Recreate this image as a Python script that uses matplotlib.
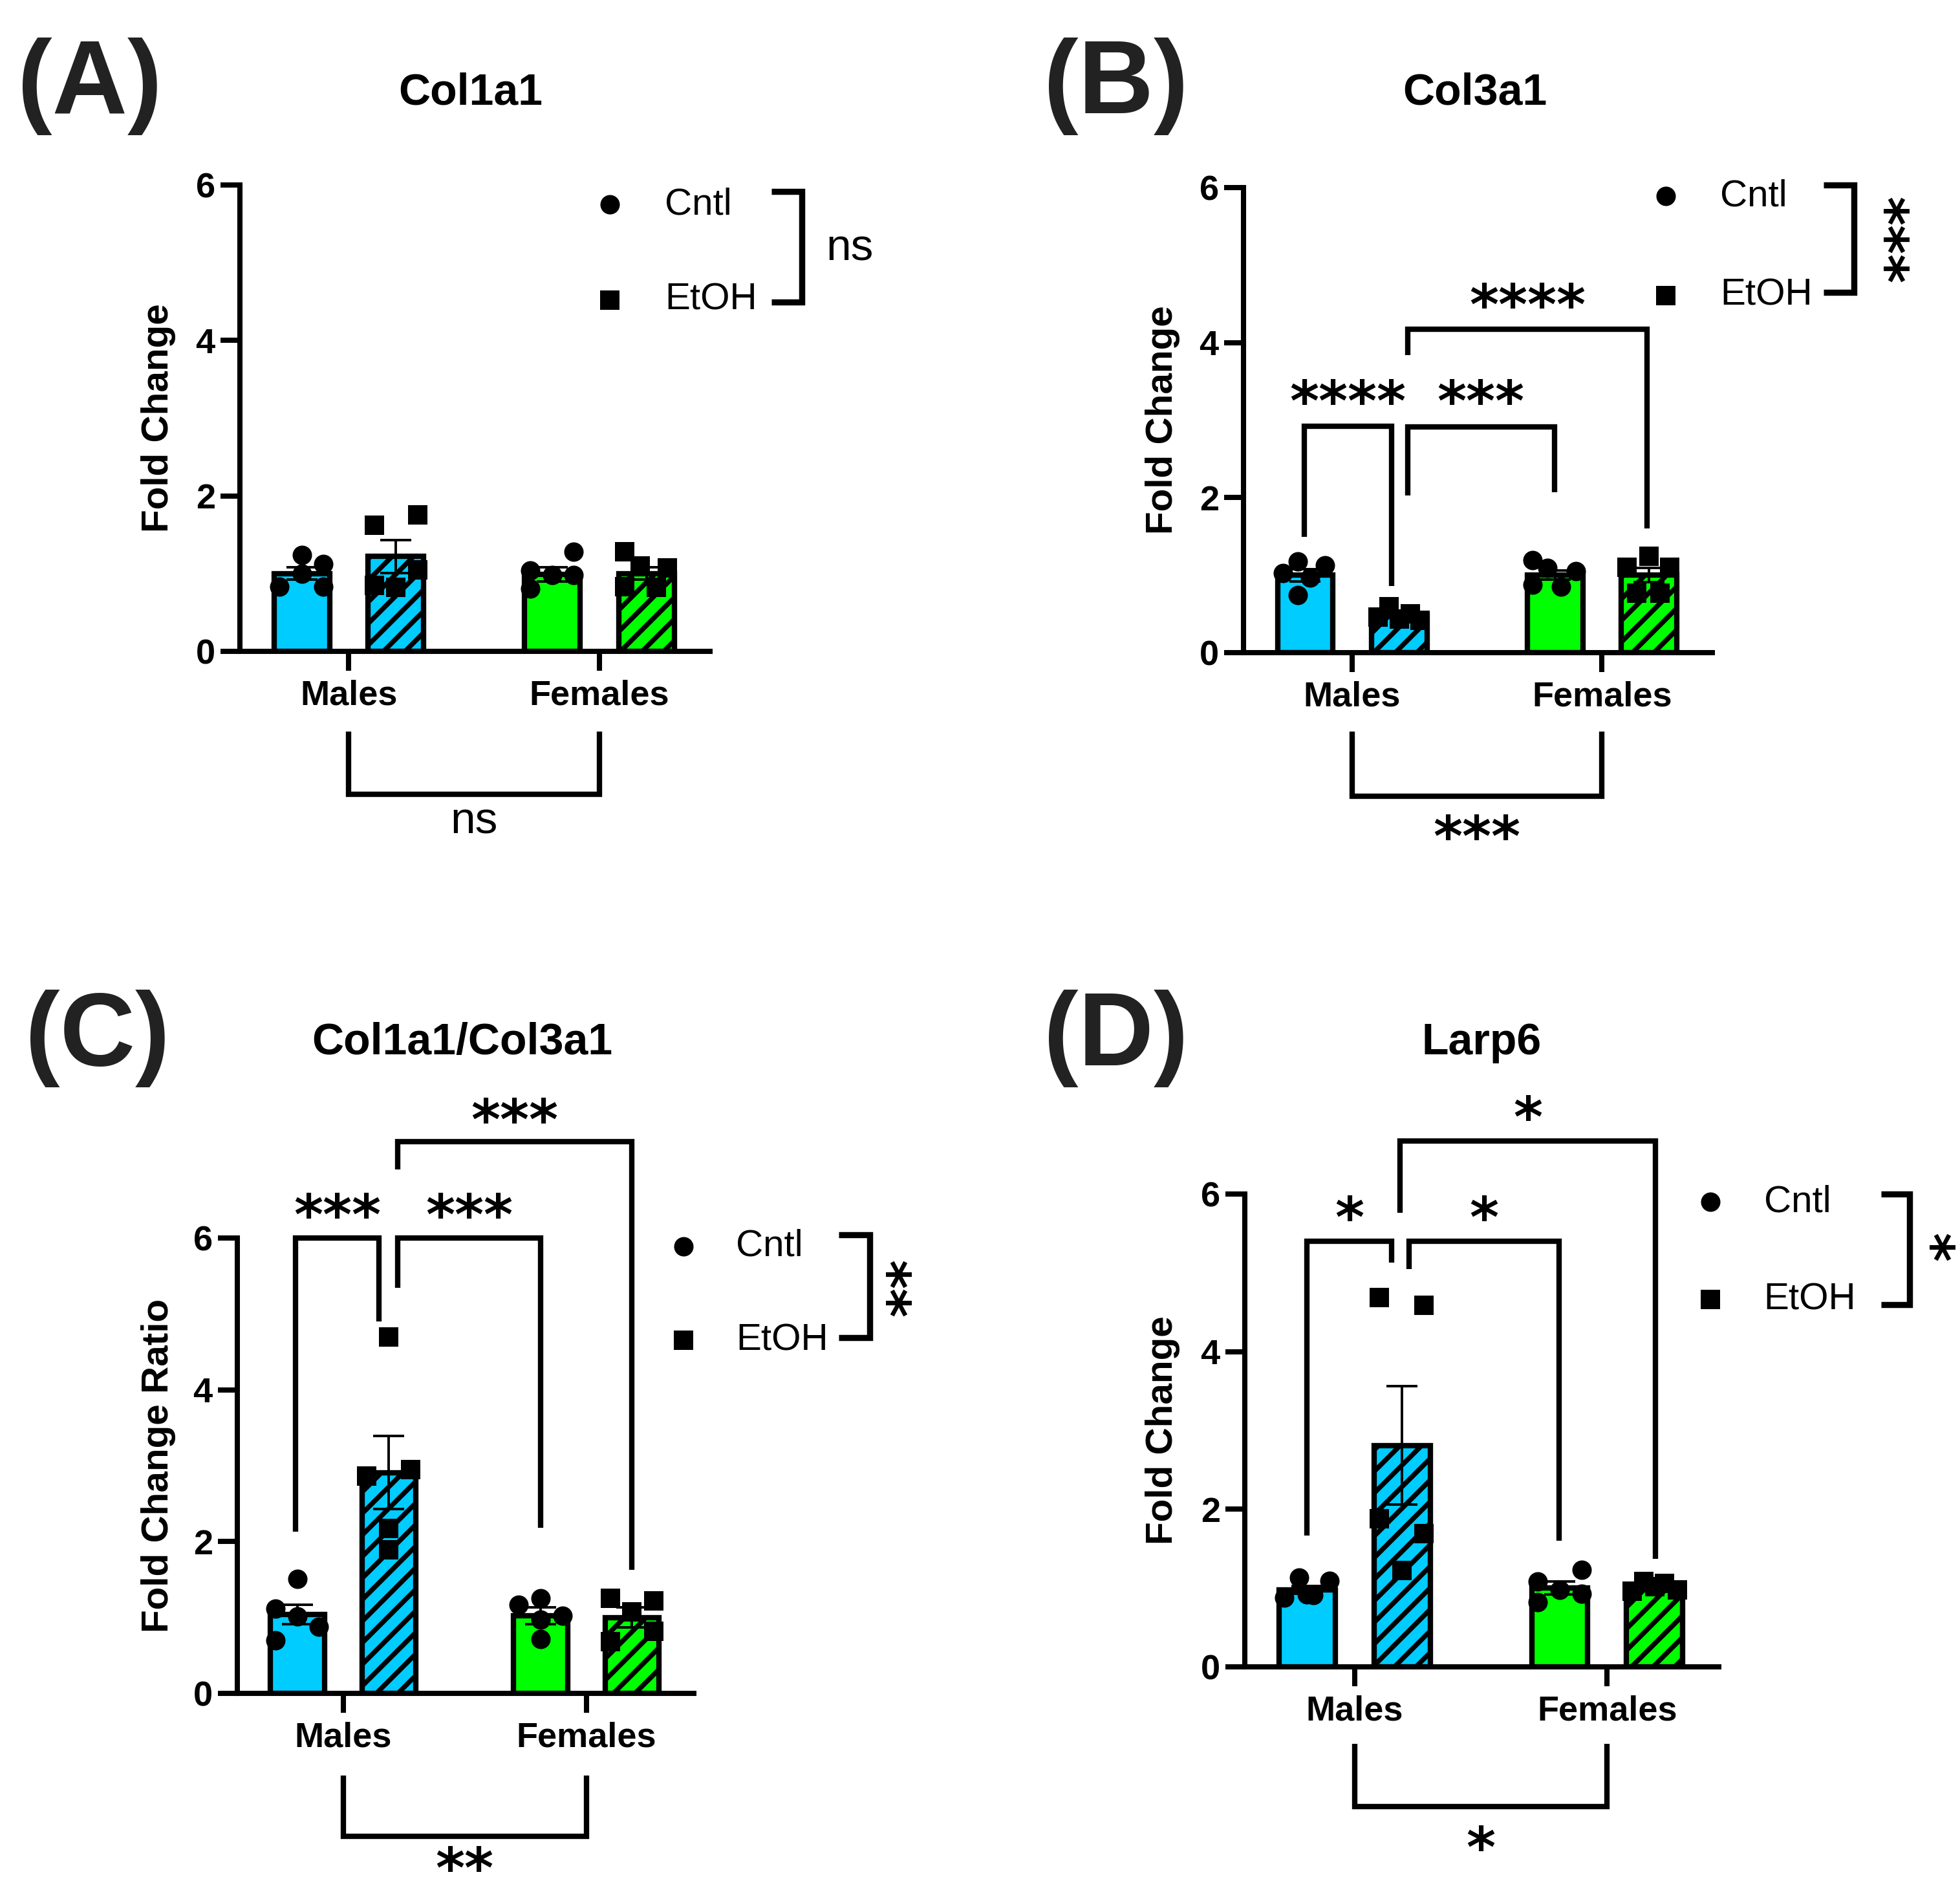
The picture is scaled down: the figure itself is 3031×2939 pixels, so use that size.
import matplotlib
matplotlib.use('Agg')
import matplotlib.pyplot as plt

W, H = 3031, 2939
DPI = 200
plt.rcParams['font.family'] = ['Liberation Sans', 'DejaVu Sans']
plt.rcParams['hatch.linewidth'] = 2.7

# ---------------- data ----------------
categories = ['Males', 'Females']
treatments = ['Cntl', 'EtOH']
# bar order: Males-Cntl, Males-EtOH, Females-Cntl, Females-EtOH
col1a1_mean = [1.00, 1.22, 0.99, 1.00]
col1a1_sem = [0.08, 0.21, 0.09, 0.08]
col1a1_points = [[1.24, 1.12, 1.00, 0.83, 0.83],
                 [1.62, 1.76, 0.85, 1.05, 0.82],
                 [1.28, 1.04, 0.98, 0.98, 0.81],
                 [1.28, 1.10, 1.07, 0.83, 0.82]]

col3a1_mean = [1.00, 0.48, 1.00, 1.00]
col3a1_sem = [0.08, 0.03, 0.06, 0.09]
col3a1_points = [[1.18, 1.13, 1.03, 0.97, 0.74],
                 [0.59, 0.50, 0.46, 0.42, 0.43],
                 [1.19, 1.09, 1.05, 0.88, 0.85],
                 [1.24, 1.10, 1.10, 0.77, 0.77]]

ratio_mean = [1.04, 2.91, 1.02, 1.00]
ratio_sem = [0.13, 0.48, 0.11, 0.13]
ratio_points = [[1.51, 1.12, 1.01, 0.88, 0.70],
                [4.70, 2.95, 2.86, 2.17, 1.89],
                [1.25, 1.17, 1.02, 0.97, 0.72],
                [1.25, 1.22, 1.07, 0.68, 0.82]]

larp6_mean = [0.98, 2.81, 1.00, 1.02]
larp6_sem = [0.05, 0.75, 0.08, 0.03]
larp6_points = [[1.13, 1.09, 0.88, 0.91, 0.92],
                [4.69, 4.59, 1.88, 1.69, 1.22],
                [1.23, 1.08, 0.98, 0.82, 0.93],
                [1.08, 1.06, 0.96, 0.98, 1.02]]

titles = ['Col1a1', 'Col3a1', 'Col1a1/Col3a1', 'Larp6']
panel_labels = ['(A)', '(B)', '(C)', '(D)']
ylabels = ['Fold Change', 'Fold Change', 'Fold Change Ratio', 'Fold Change']
treatment_sig = ['ns', '***', '**', '*']
sex_sig = ['ns', '***', '**', '*']
pair_sig = [[], ['****', '***', '****'], ['***', '***', '***'], ['*', '*', '*']]

# ---------------- layout (pixels / data-space annotation positions) ----------------
axes_px = [(371, 286, 1098, 1007), (1923, 290, 2648, 1009),
           (367, 1914, 1073, 2618), (1925, 1846, 2658, 2577)]
title_px = [(728, 162), (2281, 162), (715, 1630), (2291, 1630)]
label_px = [(27, 175), (1614, 175), (39, 1647), (1614, 1647)]

jitter = [
    [[0, 0.086, 0, -0.089, 0.086], [-0.087, 0.087, -0.087, 0.087, 0],
     [0.086, -0.089, 0, 0.086, -0.089], [-0.086, -0.025, 0.084, -0.086, 0.04]],
    [[-0.03, 0.08, -0.09, 0.02, -0.03], [-0.04, 0.045, -0.085, 0.085, 0],
     [-0.09, -0.03, 0.083, -0.09, 0.025], [0, -0.089, 0.084, -0.048, 0.044]],
    [[0, -0.09, 0, 0.087, -0.09], [0, 0.09, -0.09, 0, 0],
     [0, -0.09, 0.09, 0, 0], [-0.09, 0.09, 0, -0.09, 0.09]],
    [[-0.032, 0.088, -0.09, 0.025, 0], [-0.09, 0.086, -0.09, 0.086, 0],
     [0.086, -0.086, 0, -0.086, 0.086], [-0.042, 0.038, -0.088, 0.09, 0]],
]
# pairwise brackets: (x1, x2, y_bar, leg1_bottom, leg2_bottom, text_y)
pair_pos = [
    [],
    [(-0.191, 0.157, 2.92, 1.49, 0.86, 3.33), (0.222, 0.809, 2.91, 2.03, 2.07, 3.33),
     (0.222, 1.18, 4.17, 3.84, 1.60, 4.58)],
    [(-0.195, 0.147, 6.0, 2.13, 4.90, 6.40), (0.224, 0.811, 6.0, 5.34, 2.18, 6.40),
     (0.224, 1.187, 7.27, 6.90, 1.63, 7.65)],
    [(-0.19, 0.147, 5.40, 1.67, 5.13, 5.79), (0.216, 0.81, 5.40, 5.05, 1.60, 5.79),
     (0.18, 1.19, 6.67, 5.76, 1.37, 7.06)],
]
# sex bracket: (top, bottom, text_y)
sex_pos = [(-1.03, -1.84, -2.19), (-1.02, -1.85, -2.28), (-1.08, -1.88, -2.21), (-0.98, -1.77, -2.20)]
# legend: (marker_x, circle_y, square_y, text_x, br_x1, br_x2, br_top, br_bot, sig_x, sig_y)
legend_pos = [
    (1.041, 5.75, 4.52, 1.261, 1.687, 1.809, 5.92, 4.49, 2.00, 5.18),
    (1.255, 5.89, 4.61, 1.474, 1.887, 2.008, 6.03, 4.65, 2.167, 5.32),
    (1.400, 5.89, 4.65, 1.616, 2.037, 2.165, 6.04, 4.69, 2.27, 5.33),
    (1.409, 5.90, 4.66, 1.620, 2.085, 2.198, 6.00, 4.60, 2.316, 5.32),
]

means = [col1a1_mean, col3a1_mean, ratio_mean, larp6_mean]
sems = [col1a1_sem, col3a1_sem, ratio_sem, larp6_sem]
points = [col1a1_points, col3a1_points, ratio_points, larp6_points]

colors = ['#00CCFF', '#00CCFF', '#00FF00', '#00FF00']
hatches = [None, '//', None, '//']
markers = ['o', 's', 'o', 's']
offset = 0.188
bar_w = 0.222
LW = 3.0
STAR_FS = 31
STAR_FAMILY = 'DejaVu Sans'

fig = plt.figure(figsize=(W / DPI, H / DPI), dpi=DPI)


def sig_text(ax, x, y, s, rot=0):
    if s == 'ns':
        fs = 25
        ax.annotate(s, (x, y), xytext=(0, -0.26 * fs), textcoords='offset points',
                    ha='center', va='baseline', fontsize=fs, annotation_clip=False)
        return
    if rot == 0:
        ax.annotate(s, (x, y), xytext=(0, -0.47 * STAR_FS), textcoords='offset points',
                    ha='center', va='baseline', fontsize=STAR_FS, family=STAR_FAMILY,
                    weight='bold', annotation_clip=False)
    else:
        ax.annotate(s, (x, y), xytext=(-0.21 * STAR_FS, 0), textcoords='offset points',
                    ha='center', va='center', fontsize=STAR_FS, family=STAR_FAMILY,
                    weight='bold', rotation=270, annotation_clip=False)


for p in range(4):
    l, t, r, b = axes_px[p]
    ax = fig.add_axes([l / W, 1 - b / H, (r - l) / W, (b - t) / H])
    ax.set_xlim(-0.435, 1.442)
    ax.set_ylim(0, 6)

    for i in range(4):
        g = i // 2
        xc = g + (-offset if i % 2 == 0 else offset)
        ax.bar(xc, means[p][i], width=bar_w, color=colors[i], edgecolor='black',
               linewidth=LW, hatch=hatches[i], zorder=2)
        ax.errorbar(xc, means[p][i], yerr=sems[p][i], fmt='none', ecolor='black',
                    elinewidth=1.4, capsize=8.6, capthick=1.4, zorder=3)
        xs = [xc + j for j in jitter[p][i]]
        ax.scatter(xs, points[p][i], s=117, marker=markers[i], color='black',
                   linewidths=0, zorder=4, clip_on=False)

    for side in ['top', 'right']:
        ax.spines[side].set_visible(False)
    for side in ['left', 'bottom']:
        ax.spines[side].set_linewidth(2.9)
    ax.set_xticks([0, 1])
    ax.set_xticklabels(categories, fontsize=19.5, fontweight='bold')
    ax.set_yticks([0, 2, 4, 6])
    ax.set_yticklabels(['0', '2', '4', '6'], fontsize=19.5, fontweight='bold')
    ax.tick_params(axis='both', direction='out', length=10.8, width=2.9)
    ax.tick_params(axis='y', pad=3)
    ax.tick_params(axis='x', pad=5)
    ax.set_ylabel(ylabels[p], fontsize=21, fontweight='bold')
    ax.yaxis.set_label_coords(-0.173, 0.5)
    ax.yaxis.label.set_verticalalignment('center')

    # pairwise comparisons
    for (x1, x2, yb, l1, l2, ty), s in zip(pair_pos[p], pair_sig[p]):
        ax.plot([x1, x1, x2, x2], [l1, yb, yb, l2], color='black', lw=3.0,
                clip_on=False, solid_joinstyle='miter', solid_capstyle='butt', zorder=5)
        sig_text(ax, (x1 + x2) / 2, ty, s)

    # sex main effect bracket
    st, sb, sy = sex_pos[p]
    ax.plot([0, 0, 1, 1], [st, sb, sb, st], color='black', lw=3.0, clip_on=False,
            solid_joinstyle='miter', solid_capstyle='butt')
    sig_text(ax, 0.5, sy, sex_sig[p])

    # legend + treatment effect bracket
    mx, cy, sqy, tx, bx1, bx2, btop, bbot, sx, sy2 = legend_pos[p]
    ax.scatter([mx], [cy], s=117, marker='o', color='black', linewidths=0, clip_on=False)
    ax.scatter([mx], [sqy], s=117, marker='s', color='black', linewidths=0, clip_on=False)
    ax.text(tx, cy, treatments[0], fontsize=21, ha='left', va='center', clip_on=False)
    ax.text(tx, sqy, treatments[1], fontsize=21, ha='left', va='center', clip_on=False)
    ax.plot([bx1, bx2, bx2, bx1], [btop, btop, bbot, bbot], color='black', lw=3.4,
            clip_on=False, solid_joinstyle='miter', solid_capstyle='butt')
    sig_text(ax, sx, sy2, treatment_sig[p], rot=0 if treatment_sig[p] == 'ns' else 270)

    # titles and panel labels
    fig.text(title_px[p][0] / W, 1 - title_px[p][1] / H, titles[p], fontsize=24.5,
             fontweight='bold', ha='center', va='baseline')
    fig.text(label_px[p][0] / W, 1 - label_px[p][1] / H, panel_labels[p], fontsize=58,
             fontweight='bold', ha='left', va='baseline', color='#222222')

fig.savefig('out.png', dpi=DPI)
